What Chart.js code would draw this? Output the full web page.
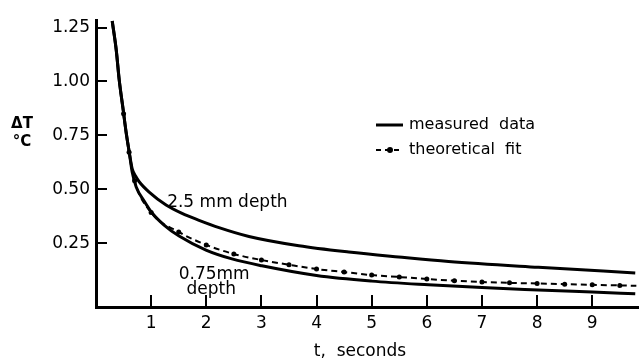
<!DOCTYPE html>
<html>
<head>
<meta charset="utf-8">
<script src="https://cdn.jsdelivr.net/npm/chart.js@4.4.1/dist/chart.umd.min.js"></script>
<style>
  html, body { margin: 0; padding: 0; background: #fff; }
  #wrap { width: 641px; height: 361px; position: relative; }
</style>
</head>
<body>
<div id="wrap"><canvas id="myChart"></canvas></div>
<script>
// measured data, 2.5 mm depth
const deepT  = [0.294, 0.367, 0.421, 0.493, 0.548, 0.602, 0.657, 0.72, 0.783, 0.964, 1.271, 1.561, 1.869, 2.231, 2.774, 3.679, 4.584, 5.489, 6.394, 8.023, 9.78];
const deepDT = [1.28, 1.146, 1.007, 0.868, 0.761, 0.673, 0.595, 0.56, 0.535, 0.487, 0.427, 0.388, 0.356, 0.322, 0.281, 0.238, 0.209, 0.186, 0.165, 0.138, 0.112];

// measured data, 0.75 mm depth
const shallowT  = [0.294, 0.367, 0.421, 0.493, 0.548, 0.602, 0.656, 0.729, 0.873, 1.018, 1.235, 1.507, 1.995, 2.466, 3.009, 4.0, 5.0, 6.03, 7.0, 8.02, 9.0, 9.78];
const shallowDT = [1.28, 1.146, 1.007, 0.868, 0.761, 0.673, 0.58, 0.511, 0.446, 0.39, 0.334, 0.283, 0.218, 0.177, 0.145, 0.1, 0.074, 0.057, 0.044, 0.033, 0.023, 0.015];

// theoretical fit
const fitT  = [0.294, 0.367, 0.421, 0.5, 0.6, 0.7, 1.0, 1.5, 2.0, 2.5, 3.0, 3.5, 4.0, 4.5, 5.0, 5.5, 6.0, 6.5, 7.0, 7.5, 8.0, 8.5, 9.0, 9.5, 9.8];
const fitDT = [1.28, 1.146, 1.007, 0.85, 0.672, 0.54, 0.392, 0.302, 0.242, 0.2, 0.172, 0.15, 0.13, 0.116, 0.102, 0.093, 0.084, 0.076, 0.07, 0.066, 0.063, 0.06, 0.057, 0.054, 0.052];

const xTicks = [1, 2, 3, 4, 5, 6, 7, 8, 9];
const yTicks = [0.25, 0.5, 0.75, 1.0, 1.25];
const yTickLabels = ['0.25', '0.50', '0.75', '1.00', '1.25'];

const FONT = "'DejaVu Sans', sans-serif";
Chart.defaults.font.family = FONT;
Chart.defaults.color = '#000';

function pairs(xs, ys) {
  return xs.map((x, i) => ({x: x, y: ys[i]}));
}

// inward ticks, axis titles, curve labels and legend
const decorations = {
  id: 'decorations',
  afterDraw(chart) {
    const ctx = chart.ctx;
    const xs = chart.scales.x, ys = chart.scales.y;
    const area = chart.chartArea;
    ctx.save();
    ctx.strokeStyle = '#000';
    ctx.fillStyle = '#000';
    ctx.lineWidth = 2;
    ctx.beginPath();
    yTicks.forEach(v => {
      const py = Math.round(ys.getPixelForValue(v));
      ctx.moveTo(area.left, py);
      ctx.lineTo(area.left + 11, py);
    });
    xTicks.forEach(v => {
      const px = Math.round(xs.getPixelForValue(v));
      ctx.moveTo(px, area.bottom);
      ctx.lineTo(px, area.bottom - 12);
    });
    ctx.stroke();

    // y title
    ctx.textAlign = 'center';
    ctx.textBaseline = 'middle';
    ctx.font = 'bold 15px ' + FONT;
    ctx.fillText('\u0394T', 22, 124);
    ctx.fillText('\u00B0C', 22, 142);

    // x title
    ctx.font = '17px ' + FONT;
    ctx.fillText('t,  seconds', 360, 352);

    // curve labels, anchored in data units
    ctx.textAlign = 'left';
    ctx.textBaseline = 'alphabetic';
    ctx.font = '17px ' + FONT;
    ctx.fillText('2.5 mm depth', xs.getPixelForValue(1.29), ys.getPixelForValue(0.42));
    ctx.fillText('0.75mm', xs.getPixelForValue(1.5), ys.getPixelForValue(0.085));
    ctx.fillText('depth', xs.getPixelForValue(1.64), ys.getPixelForValue(0.014));

    // legend
    ctx.font = '16px ' + FONT;
    ctx.textBaseline = 'middle';
    ctx.lineWidth = 3;
    ctx.beginPath();
    ctx.moveTo(376, 125);
    ctx.lineTo(403, 125);
    ctx.stroke();
    ctx.fillText('measured  data', 409, 125);
    ctx.lineWidth = 2;
    ctx.setLineDash([5, 4]);
    ctx.beginPath();
    ctx.moveTo(376, 150);
    ctx.lineTo(403, 150);
    ctx.stroke();
    ctx.setLineDash([]);
    ctx.beginPath();
    ctx.arc(390, 150, 3, 0, Math.PI * 2);
    ctx.fill();
    ctx.fillText('theoretical  fit', 409, 150);
    ctx.restore();
  }
};

new Chart(document.getElementById('myChart'), {
  type: 'line',
  data: {
    datasets: [
      {
        label: '2.5 mm depth',
        data: pairs(deepT, deepDT),
        borderColor: '#000',
        borderWidth: 3,
        pointRadius: 0,
        cubicInterpolationMode: 'monotone'
      },
      {
        label: '0.75 mm depth',
        data: pairs(shallowT, shallowDT),
        borderColor: '#000',
        borderWidth: 3,
        pointRadius: 0,
        cubicInterpolationMode: 'monotone'
      },
      {
        label: 'theoretical fit',
        data: pairs(fitT, fitDT),
        borderColor: '#000',
        backgroundColor: '#000',
        borderWidth: 2,
        borderDash: [6, 4],
        pointRadius: ctx => (ctx.raw && ctx.raw.x >= 0.5 && ctx.raw.x <= 9.5) ? 2.5 : 0,
        pointBorderWidth: 0,
        pointBackgroundColor: '#000',
        cubicInterpolationMode: 'monotone'
      }
    ]
  },
  options: {
    responsive: true,
    maintainAspectRatio: false,
    devicePixelRatio: 1,
    animation: false,
    layout: { padding: { top: 20, right: 3, left: 0, bottom: 0 } },
    plugins: {
      legend: { display: false },
      tooltip: { enabled: false }
    },
    scales: {
      x: {
        type: 'linear',
        min: 0,
        max: 9.83,
        grid: { display: false, drawTicks: false },
        border: { display: true, color: '#000', width: 3 },
        afterBuildTicks: s => { s.ticks = xTicks.map(v => ({value: v})); },
        afterFit: s => { s.height = 54; },
        ticks: { padding: 6, font: { size: 17 }, callback: v => String(v) }
      },
      y: {
        type: 'linear',
        min: -0.046,
        max: 1.285,
        grid: { display: false, drawTicks: false },
        border: { display: true, color: '#000', width: 3 },
        afterBuildTicks: s => { s.ticks = yTicks.map(v => ({value: v})); },
        afterFit: s => { s.width = 96; },
        ticks: {
          padding: 6,
          font: { size: 17 },
          callback: v => yTickLabels[yTicks.indexOf(v)] ?? ''
        }
      }
    }
  },
  plugins: [decorations]
});
</script>
</body>
</html>
